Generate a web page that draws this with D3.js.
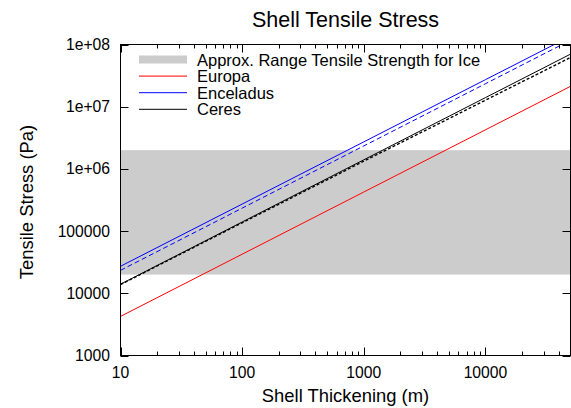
<!DOCTYPE html>
<html>
<head>
<meta charset="utf-8">
<script src="https://cdn.jsdelivr.net/npm/d3@7"></script>
<style>
  body { margin: 0; background: #fff; }
  svg { font-family: "Liberation Sans", Arial, sans-serif; }
</style>
</head>
<body>
<div id="chart"></div>
<script>
// values (Pa vs m, straight lines on log-log)
const thickening = [10, 100, 1000, 10000, 50000];
const europa = [4250, 42500, 425000, 4250000, 21250000];
const enceladus = [27200, 272000, 2720000, 27200000, 136000000];
const enceladusDashed = [23400, 234000, 2340000, 23400000, 117000000];
const ceres = [14000, 140000, 1400000, 14000000, 70000000];
const ceresDashed = [13800, 136000, 1330000, 12700000, 62000000];
const iceRange = [2e4, 2e6];
const yTicks = [1000, 10000, 100000, 1e6, 1e7, 1e8];
const yTickLabels = ["1000", "10000", "100000", "1e+06", "1e+07", "1e+08"];
const xTicks = [10, 100, 1000, 10000];

const width = 571, height = 408;
const margin = { top: 44.5, right: 0.5, bottom: 52.5, left: 120.5 };

const svg = d3.select("#chart").append("svg")
  .attr("width", width).attr("height", height);

const x = d3.scaleLog().domain([10, 50000])
  .range([margin.left, width - margin.right]);
const y = d3.scaleLog().domain([1000, 1e8])
  .range([height - margin.bottom, margin.top]);

svg.append("defs").append("clipPath").attr("id", "clip")
  .append("rect")
  .attr("x", margin.left).attr("y", margin.top)
  .attr("width", x.range()[1] - margin.left)
  .attr("height", y.range()[0] - margin.top);

const plot = svg.append("g").attr("clip-path", "url(#clip)");

// ice tensile strength band
plot.append("rect")
  .attr("x", margin.left)
  .attr("width", x.range()[1] - margin.left)
  .attr("y", y(iceRange[1]))
  .attr("height", y(iceRange[0]) - y(iceRange[1]))
  .attr("fill", "#cccccc");

const line = d3.line()
  .x((d, i) => x(thickening[i]))
  .y(d => y(d));

const series = [
  { vals: ceresDashed, color: "#000", dash: "3,2", w: 1.4 },
  { vals: ceres, color: "#000", dash: null, w: 1 },
  { vals: europa, color: "#ff0000", dash: null, w: 1 },
  { vals: enceladusDashed, color: "#0000ff", dash: "5,3", w: 1 },
  { vals: enceladus, color: "#0000ff", dash: null, w: 1 }
];

series.forEach(s => {
  plot.append("path")
    .attr("d", line(s.vals))
    .attr("fill", "none")
    .attr("stroke", s.color)
    .attr("stroke-width", s.w)
    .attr("stroke-dasharray", s.dash);
});

// axes: ticks pointing inward on all four sides
const x0 = x.range()[0], x1 = x.range()[1];
const y0 = y.range()[0], y1 = y.range()[1];

const minorX = [];
for (let e = 10; e < 50000; e *= 10) {
  for (let k = 2; k <= 9; k++) {
    if (e * k <= 50000) minorX.push(e * k);
  }
}

const axes = svg.append("g").attr("stroke", "#000").attr("stroke-width", 1);

axes.selectAll(".xmaj").data(xTicks).enter().append("line")
  .attr("x1", d => Math.round(x(d)) + 0.5).attr("x2", d => Math.round(x(d)) + 0.5)
  .attr("y1", y0).attr("y2", y0 - 8);
axes.selectAll(".xmajt").data(xTicks).enter().append("line")
  .attr("x1", d => Math.round(x(d)) + 0.5).attr("x2", d => Math.round(x(d)) + 0.5)
  .attr("y1", y1).attr("y2", y1 + 8);
axes.selectAll(".xmin").data(minorX).enter().append("line")
  .attr("x1", d => Math.round(x(d)) + 0.5).attr("x2", d => Math.round(x(d)) + 0.5)
  .attr("y1", y0).attr("y2", y0 - 4);
axes.selectAll(".xmint").data(minorX).enter().append("line")
  .attr("x1", d => Math.round(x(d)) + 0.5).attr("x2", d => Math.round(x(d)) + 0.5)
  .attr("y1", y1).attr("y2", y1 + 4);

axes.selectAll(".ymaj").data(yTicks).enter().append("line")
  .attr("x1", x0).attr("x2", x0 + 8)
  .attr("y1", d => Math.round(y(d)) + 0.5).attr("y2", d => Math.round(y(d)) + 0.5);
axes.selectAll(".ymajr").data(yTicks).enter().append("line")
  .attr("x1", x1).attr("x2", x1 - 8)
  .attr("y1", d => Math.round(y(d)) + 0.5).attr("y2", d => Math.round(y(d)) + 0.5);

axes.append("rect")
  .attr("x", x0).attr("y", y1)
  .attr("width", x1 - x0).attr("height", y0 - y1)
  .attr("fill", "none");

// tick labels
svg.append("g").selectAll("text").data(xTicks).enter().append("text")
  .attr("x", d => x(d)).attr("y", 378)
  .attr("text-anchor", "middle")
  .attr("font-size", 15.7)
  .text(d => d);

svg.append("g").selectAll("text").data(yTicks).enter().append("text")
  .attr("x", 110).attr("y", d => y(d) + 5.5)
  .attr("text-anchor", "end")
  .attr("font-size", 15.7)
  .text((d, i) => yTickLabels[i]);

// titles
svg.append("text")
  .attr("x", (x0 + x1) / 2).attr("y", 27)
  .attr("text-anchor", "middle").attr("font-size", 21.5)
  .text("Shell Tensile Stress");

svg.append("text")
  .attr("x", (x0 + x1) / 2).attr("y", 402)
  .attr("text-anchor", "middle").attr("font-size", 18.4)
  .text("Shell Thickening (m)");

svg.append("text")
  .attr("transform", `translate(33, 202) rotate(-90)`)
  .attr("text-anchor", "middle").attr("font-size", 18.4)
  .text("Tensile Stress (Pa)");

// legend
const legendItems = [
  { label: "Approx. Range Tensile Strength for Ice", type: "band", color: "#cccccc" },
  { label: "Europa", type: "line", color: "#ff0000" },
  { label: "Enceladus", type: "line", color: "#0000ff" },
  { label: "Ceres", type: "line", color: "#000" }
];

const legend = svg.append("g").selectAll("g").data(legendItems).enter().append("g")
  .attr("transform", (d, i) => `translate(139, ${59.5 + i * 16.6})`);

legend.filter(d => d.type === "band").append("rect")
  .attr("x", 0).attr("y", -4).attr("width", 48).attr("height", 8)
  .attr("fill", d => d.color);

legend.filter(d => d.type === "line").append("line")
  .attr("x1", 0).attr("x2", 48).attr("y1", 0).attr("y2", 0)
  .attr("stroke", d => d.color).attr("stroke-width", 1);

legend.append("text")
  .attr("x", 58).attr("y", 6)
  .attr("font-size", 16.5)
  .text(d => d.label);
</script>
</body>
</html>
